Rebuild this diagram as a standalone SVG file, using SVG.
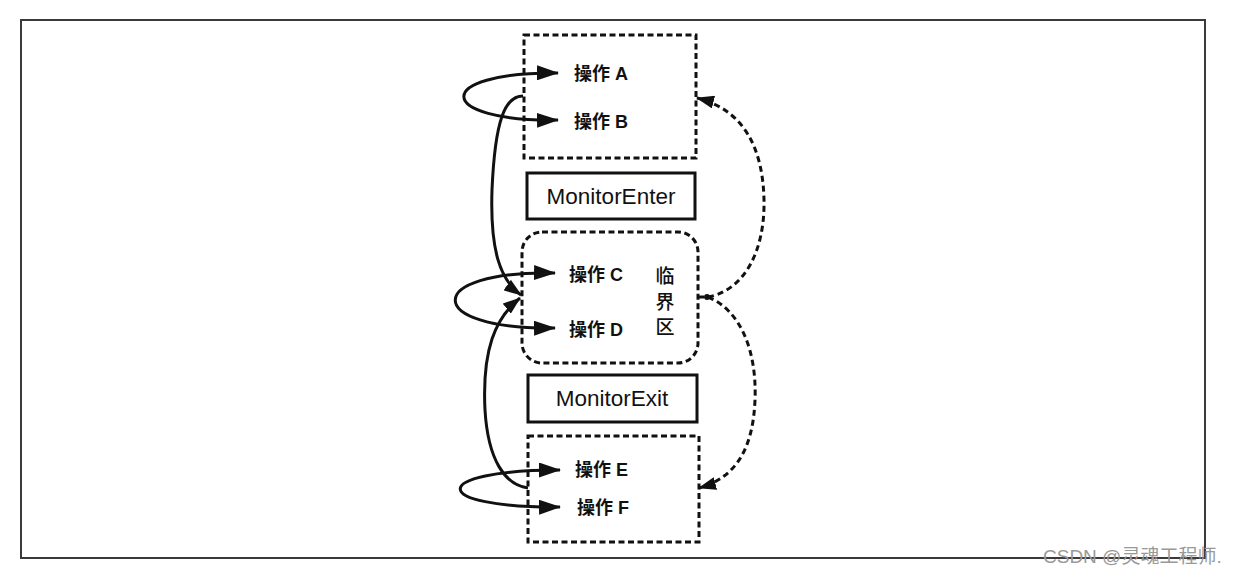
<svg xmlns="http://www.w3.org/2000/svg" width="1234" height="576" viewBox="0 0 1234 576">
<style>
.frame{fill:none;stroke:#3a3a3a;stroke-width:2}
.dbox{fill:none;stroke:#111;stroke-width:3;stroke-dasharray:6 3.5}
.sbox{fill:#fff;stroke:#111;stroke-width:3}
.lbl{font-family:"Liberation Sans","Noto Sans CJK SC",sans-serif;font-size:18px;font-weight:bold;fill:#111}
.mon{font-family:"Liberation Sans","Noto Sans CJK SC",sans-serif;font-size:22.5px;fill:#111;text-anchor:middle}
.crit{font-family:"Noto Sans CJK SC",sans-serif;font-size:19px;font-weight:500;fill:#111;text-anchor:middle}
.solid{fill:none;stroke:#111;stroke-width:3}
.dash{fill:none;stroke:#111;stroke-width:3;stroke-dasharray:6 4}
.wm{font-family:"Liberation Sans","Noto Sans CJK SC",sans-serif;font-size:19px;fill:#999}
</style>
<defs>
<marker id="arr" viewBox="0 0 22 15" refX="21" refY="7.5" markerWidth="22" markerHeight="15" markerUnits="userSpaceOnUse" orient="auto-start-reverse">
<path d="M0,0 L22,7.5 L0,15 z" fill="#111"/>
</marker>
<marker id="arrs" viewBox="0 0 18 13" refX="17" refY="6.5" markerWidth="18" markerHeight="13" markerUnits="userSpaceOnUse" orient="auto">
<path d="M0,0 L18,6.5 L0,13 z" fill="#111"/>
</marker>
</defs>
<rect class="frame" x="21" y="20" width="1184" height="538"/>
<g id="box-ab">
<rect class="dbox" x="524" y="35" width="172" height="123"/>
<text class="lbl" x="574" y="80">操作 A</text>
<text class="lbl" x="574" y="128">操作 B</text>
</g>
<g id="monitor-enter">
<rect class="sbox" x="527" y="173" width="168" height="46"/>
<text class="mon" x="611" y="204">MonitorEnter</text>
</g>
<g id="critical">
<rect class="dbox" x="522" y="232" width="176" height="131" rx="20" ry="20"/>
<text class="lbl" x="569" y="281">操作 C</text>
<text class="lbl" x="569" y="336">操作 D</text>
<text class="crit" x="665" y="283">临</text>
<text class="crit" x="665" y="309">界</text>
<text class="crit" x="665" y="334">区</text>
</g>
<g id="monitor-exit">
<rect class="sbox" x="528" y="375" width="169" height="47"/>
<text class="mon" x="612" y="406">MonitorExit</text>
</g>
<g id="box-ef">
<rect class="dbox" x="528" y="436" width="171" height="106"/>
<text class="lbl" x="575" y="476">操作 E</text>
<text class="lbl" x="577" y="514">操作 F</text>
</g>
<g id="connectors">
<path class="solid" d="M558 73 C430 72 435 122 558 120" marker-start="url(#arr)" marker-end="url(#arr)"/>
<path class="solid" d="M555 273 C422 270 422 330 555 328" marker-start="url(#arr)" marker-end="url(#arr)"/>
<path class="solid" d="M560 470 C427 470 427 508 560 507" marker-start="url(#arr)" marker-end="url(#arr)"/>
<path class="solid" d="M523 96 C505 96 495 120 492 190 C490 250 500 280 521 295" marker-end="url(#arrs)"/>
<path class="solid" d="M528 488 C505 485 488 460 485 410 C482 350 495 318 520 298" marker-end="url(#arrs)"/>
<path class="dash" d="M698 297 L708 297 C745 290 765 250 764 200 C763 150 745 110 697 98" marker-end="url(#arrs)"/>
<path class="dash" d="M708 297 C740 310 757 350 755 400 C753 450 735 478 699 488" marker-end="url(#arrs)"/>
<circle cx="707" cy="297" r="3" fill="#111"/>
</g>
<text class="wm" x="1043" y="563">CSDN @灵魂工程师.</text>
</svg>
